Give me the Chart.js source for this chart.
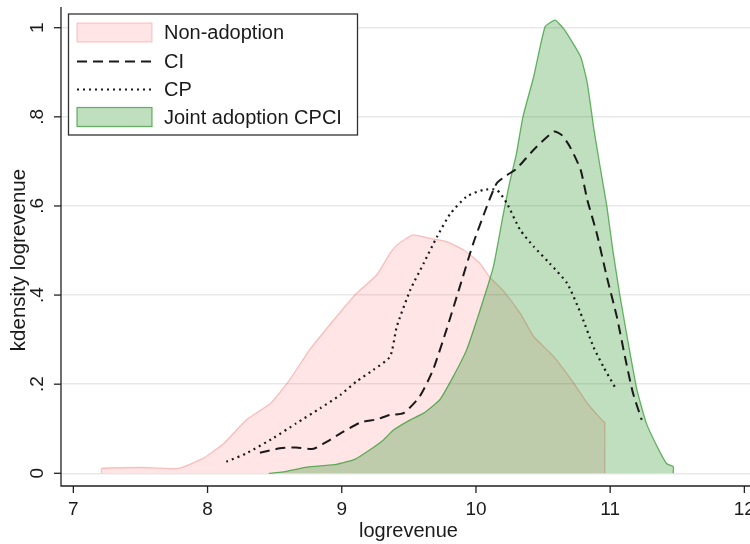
<!DOCTYPE html>
<html>
<head>
<meta charset="utf-8">
<script src="https://cdn.jsdelivr.net/npm/chart.js@4.4.0/dist/chart.umd.min.js"></script>
<style>
  html, body { margin: 0; padding: 0; background: #fff; }
  #wrap { width: 750px; height: 544px; }
</style>
</head>
<body>
<div id="wrap"><canvas id="kdChart" width="750" height="544"></canvas></div>
<script>
// kdensity logrevenue by adoption group
const nonAdoptX = [7.21, 7.21, 7.52, 7.78, 7.97, 8.12, 8.29, 8.47, 8.61, 8.76, 8.94, 9.11, 9.26, 9.36, 9.41, 9.53, 9.66, 9.78, 9.91, 10.03, 10.10, 10.20, 10.33, 10.43, 10.58, 10.73, 10.83, 10.95, 10.96, 10.96];
const nonAdoptY = [0, 0.011, 0.013, 0.011, 0.034, 0.067, 0.12, 0.157, 0.209, 0.277, 0.344, 0.404, 0.445, 0.494, 0.512, 0.535, 0.527, 0.52, 0.501, 0.471, 0.441, 0.411, 0.359, 0.307, 0.262, 0.202, 0.157, 0.116, 0.114, 0];

const ciX = [8.39, 8.54, 8.66, 8.79, 8.89, 9.01, 9.14, 9.26, 9.36, 9.46, 9.58, 9.68, 9.78, 9.88, 9.98, 10.08, 10.155, 10.23, 10.30, 10.43, 10.58, 10.64, 10.70, 10.78, 10.83, 10.90, 10.975, 11.05, 11.11, 11.17, 11.235];
const ciY = [0.046, 0.056, 0.058, 0.055, 0.071, 0.093, 0.114, 0.121, 0.131, 0.135, 0.172, 0.232, 0.322, 0.419, 0.516, 0.598, 0.651, 0.669, 0.683, 0.726, 0.767, 0.759, 0.733, 0.681, 0.613, 0.539, 0.441, 0.351, 0.262, 0.18, 0.12];

const cpX = [8.14, 8.29, 8.49, 8.66, 8.84, 8.99, 9.11, 9.235, 9.36, 9.41, 9.51, 9.61, 9.71, 9.81, 9.93, 10.055, 10.155, 10.23, 10.33, 10.43, 10.55, 10.68, 10.78, 10.875, 10.95, 11.04];
const cpY = [0.026, 0.045, 0.079, 0.112, 0.146, 0.176, 0.206, 0.232, 0.262, 0.329, 0.411, 0.471, 0.531, 0.583, 0.621, 0.636, 0.636, 0.606, 0.546, 0.509, 0.471, 0.426, 0.359, 0.284, 0.239, 0.191];

const jointX = [8.457, 8.56, 8.74, 8.96, 9.1, 9.21, 9.31, 9.385, 9.51, 9.61, 9.73, 9.83, 9.93, 10.03, 10.13, 10.20, 10.25, 10.30, 10.35, 10.43, 10.515, 10.59, 10.66, 10.78, 10.83, 10.88, 10.925, 10.975, 11.02, 11.07, 11.135, 11.20, 11.27, 11.35, 11.42, 11.47, 11.47];
const jointY = [0, 0.003, 0.014, 0.02, 0.032, 0.053, 0.075, 0.097, 0.12, 0.135, 0.165, 0.217, 0.277, 0.366, 0.464, 0.576, 0.651, 0.715, 0.80, 0.89, 1.002, 1.017, 0.995, 0.935, 0.875, 0.77, 0.688, 0.60, 0.501, 0.404, 0.292, 0.187, 0.112, 0.06, 0.022, 0.015, 0];

const xTicks = [7, 8, 9, 10, 11, 12];
const yTicks = [0, 0.2, 0.4, 0.6, 0.8, 1];
const yTickLabels = ['0', '.2', '.4', '.6', '.8', '1'];
const seriesNames = ['Non-adoption', 'CI', 'CP', 'Joint adoption CPCI'];

const FONT = '"Liberation Sans", Arial, sans-serif';
const INK = '#1a1a1a';

const pinkFill = 'rgba(255, 0, 0, 0.1)';
const pinkLine = 'rgba(240, 90, 90, 0.35)';
const greenFill = 'rgba(0, 128, 0, 0.25)';
const greenLine = 'rgba(40, 150, 40, 0.7)';

function toPoints(xs, ys) {
    return xs.map((x, i) => ({ x: x, y: ys[i] }));
}

// axes, ticks, titles and legend drawn Stata-style
const stataFrame = {
    id: 'stataFrame',
    afterDraw(chart) {
        const ctx = chart.ctx;
        const sx = chart.scales.x;
        const sy = chart.scales.y;
        const area = chart.chartArea;
        ctx.save();
        ctx.strokeStyle = '#222';
        ctx.lineWidth = 1.3;
        ctx.beginPath();
        ctx.moveTo(area.left, area.top);
        ctx.lineTo(area.left, area.bottom);
        ctx.lineTo(area.right, area.bottom);
        ctx.stroke();

        ctx.fillStyle = INK;
        ctx.font = '19px ' + FONT;
        ctx.textAlign = 'center';
        ctx.textBaseline = 'middle';
        xTicks.forEach(v => {
            const px = sx.getPixelForValue(v);
            ctx.beginPath();
            ctx.moveTo(px, area.bottom);
            ctx.lineTo(px, area.bottom + 7);
            ctx.stroke();
            ctx.fillText(String(v), px, area.bottom + 24);
        });
        yTicks.forEach((v, i) => {
            const py = sy.getPixelForValue(v);
            ctx.beginPath();
            ctx.moveTo(area.left - 7, py);
            ctx.lineTo(area.left, py);
            ctx.stroke();
            ctx.save();
            ctx.translate(area.left - 23, py);
            ctx.rotate(-Math.PI / 2);
            ctx.fillText(yTickLabels[i], 0, 0);
            ctx.restore();
        });

        ctx.font = '20px ' + FONT;
        ctx.fillText('logrevenue', (area.left + area.right) / 2 + 3, 531);
        ctx.save();
        ctx.translate(19, 260);
        ctx.rotate(-Math.PI / 2);
        ctx.font = '20.5px ' + FONT;
        ctx.fillText('kdensity logrevenue', 0, 0);
        ctx.restore();

        // legend box
        const lx = 68.5, ly = 14, lw = 289, lh = 121;
        ctx.fillStyle = '#fff';
        ctx.fillRect(lx, ly, lw, lh);
        ctx.strokeStyle = '#333';
        ctx.lineWidth = 1.3;
        ctx.strokeRect(lx, ly, lw, lh);

        const rowY = [32.5, 61.5, 89.5, 117];
        const swL = 77, swR = 152;
        // Non-adoption swatch
        ctx.fillStyle = pinkFill;
        ctx.fillRect(swL, rowY[0] - 9.5, swR - swL, 19);
        ctx.strokeStyle = pinkLine;
        ctx.lineWidth = 1;
        ctx.strokeRect(swL, rowY[0] - 9.5, swR - swL, 19);
        // CI
        ctx.strokeStyle = INK;
        ctx.lineWidth = 2;
        ctx.setLineDash([10, 6]);
        ctx.beginPath();
        ctx.moveTo(swL, rowY[1]);
        ctx.lineTo(swR, rowY[1]);
        ctx.stroke();
        // CP
        ctx.setLineDash([2, 4]);
        ctx.beginPath();
        ctx.moveTo(swL, rowY[2]);
        ctx.lineTo(swR, rowY[2]);
        ctx.stroke();
        ctx.setLineDash([]);
        // Joint swatch
        ctx.fillStyle = greenFill;
        ctx.fillRect(swL, rowY[3] - 9.5, swR - swL, 19);
        ctx.strokeStyle = greenLine;
        ctx.lineWidth = 1.2;
        ctx.strokeRect(swL, rowY[3] - 9.5, swR - swL, 19);

        ctx.fillStyle = INK;
        ctx.font = '20px ' + FONT;
        ctx.textAlign = 'left';
        seriesNames.forEach((name, i) => {
            ctx.fillText(name, 164, rowY[i] + 1);
        });
        ctx.restore();
    }
};

new Chart(document.getElementById('kdChart').getContext('2d'), {
    type: 'line',
    data: {
        datasets: [
            {
                label: seriesNames[1],
                data: toPoints(ciX, ciY),
                borderColor: INK,
                borderWidth: 2,
                borderDash: [10, 6],
                fill: false,
                pointRadius: 0,
                tension: 0.2,
                order: 0
            },
            {
                label: seriesNames[2],
                data: toPoints(cpX, cpY),
                borderColor: INK,
                borderWidth: 2.2,
                borderDash: [2, 4],
                fill: false,
                pointRadius: 0,
                tension: 0.2,
                order: 0
            },
            {
                label: seriesNames[3],
                data: toPoints(jointX, jointY),
                borderColor: greenLine,
                backgroundColor: greenFill,
                borderWidth: 1.3,
                fill: 'origin',
                pointRadius: 0,
                tension: 0.15,
                order: 1
            },
            {
                label: seriesNames[0],
                data: toPoints(nonAdoptX, nonAdoptY),
                borderColor: pinkLine,
                backgroundColor: pinkFill,
                borderWidth: 1.3,
                fill: 'origin',
                pointRadius: 0,
                tension: 0.15,
                order: 2
            }
        ]
    },
    options: {
        responsive: false,
        animation: false,
        layout: { padding: { left: 61, right: 0, top: 7, bottom: 58 } },
        plugins: {
            legend: { display: false },
            tooltip: { enabled: false }
        },
        scales: {
            x: {
                type: 'linear',
                min: 6.908,
                max: 12.042,
                afterBuildTicks: scale => { scale.ticks = xTicks.map(v => ({ value: v })); },
                ticks: { display: false },
                grid: { display: false, drawTicks: false },
                border: { display: false }
            },
            y: {
                type: 'linear',
                min: -0.0285,
                max: 1.0465,
                afterBuildTicks: scale => { scale.ticks = yTicks.map(v => ({ value: v })); },
                ticks: { display: false },
                grid: { color: 'rgba(0, 0, 0, 0.09)', lineWidth: 1.5, drawTicks: false },
                border: { display: false }
            }
        }
    },
    plugins: [stataFrame]
});
</script>
</body>
</html>
